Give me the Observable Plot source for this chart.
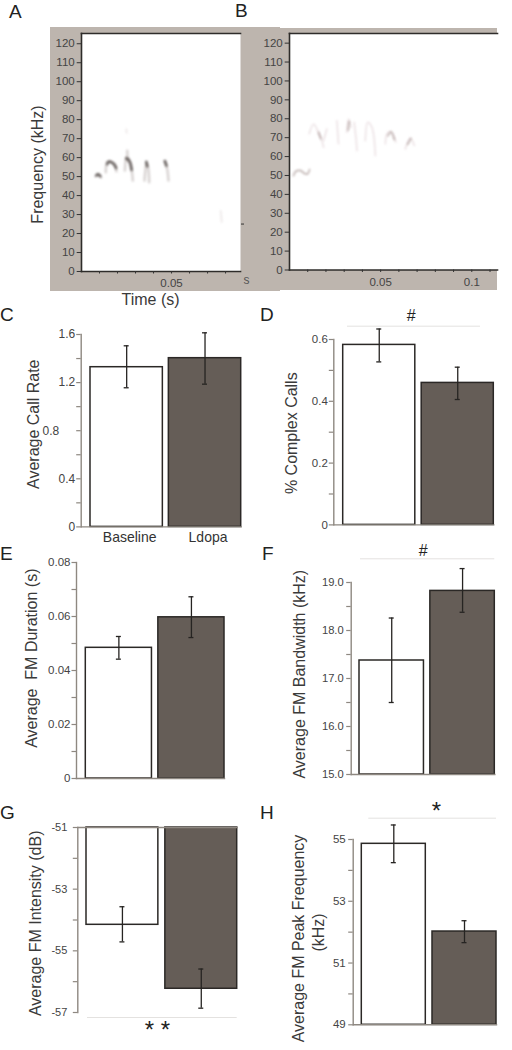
<!DOCTYPE html>
<html><head><meta charset="utf-8">
<script src="https://cdn.jsdelivr.net/npm/d3@7"></script>
<script src="https://cdn.jsdelivr.net/npm/@observablehq/plot@0.6"></script>
<style>
html,body{margin:0;padding:0;background:#fff;}
#page{position:relative;width:512px;height:1050px;overflow:hidden;font-family:"Liberation Sans",Arial,sans-serif;}
.grey{position:absolute;background:#bdb5ae;}
.letter{position:absolute;font-size:19px;line-height:19px;color:#222;}
svg text{white-space:pre;}
</style></head><body><div id="page"></div>
<script>
// ---------- data ----------
const categories = ["Baseline", "Ldopa"];

const callRate     = [1.328, 1.403],  callRateLo  = [1.157, 1.187],  callRateHi  = [1.506, 1.614];
const complexCalls = [0.5825, 0.4595], complexLo  = [0.5275, 0.4058], complexHi  = [0.634, 0.5104];
const fmDuration   = [0.0484, 0.0597], durationLo = [0.0442, 0.0522], durationHi = [0.0526, 0.0673];
const fmBandwidth  = [17.375, 18.825], bandLo     = [16.5, 18.38],   bandHi      = [18.26, 19.29];
const fmIntensity  = [-54.156, -56.23], intensLo  = [-54.71, -56.86], intensHi   = [-53.57, -55.59];
const fmPeak       = [54.86, 52.02],   peakLo     = [54.25, 51.66],  peakHi      = [55.47, 52.37];

const specTicks = [0,10,20,30,40,50,60,70,80,90,100,110,120];

// spectrogram traces: [time (s), frequency (kHz)]
const tracesA = [
  [[.0078,50.2],[.0091,51.4],[.0109,49.6]],
  [[.0135,52.3],[.0143,57.6],[.0161,57.9],[.0183,56.7],[.0194,52.8]],
  [[.0241,53.2],[.025,60.2],[.0263,58.5],[.0276,54.9],[.0285,47.9]],
  [[.0254,63.7],[.0256,58]],
  [[.035,47.9],[.0361,57.2],[.037,54.9],[.0376,47]],
  [[.0463,57.9],[.0476,54],[.0483,47.9]]
];
const coresA = [
  [[.0083,50.6],[.0091,51.2],[.0104,50.2]],
  [[.0143,56.5],[.015,57.8],[.0165,57.6],[.0183,56.2],[.0192,54.5]],
  [[.0249,59.5],[.0262,58.8],[.0272,56.8],[.0278,53.5]],
  [[.036,57.8],[.0365,55.5]],
  [[.0463,58.2],[.0472,55.8]]
];
const faintA = [
  [[.0249,75],[.0251,73]],
  [[.0773,32],[.0779,26]]
];
const tracesB = [
  [[.0108,72],[.0132,77.2],[.0159,72.8],[.0178,68.4],[.0187,64.9]],
  [[.0187,68.4],[.0205,74.6]],
  [[.026,79],[.0269,66.7]],
  [[.0315,72.8],[.0324,79.9],[.0337,75.5]],
  [[.0355,78.1],[.0366,68.4],[.037,63.1]],
  [[.0416,68.4],[.0429,78.1],[.0452,75.5],[.0471,60.5]],
  [[.0526,66.7],[.0535,72],[.0557,73.2],[.0584,67.5]],
  [[.0635,64],[.0663,69.7],[.0685,65.8]]
];
const coresB = [
  [[.0022,49.9],[.0035,52.2],[.0062,52.6],[.0081,51.1],[.0099,50.8],[.011,53.1]],
  [[.0159,72.8],[.0172,69.5]],
  [[.0322,74],[.0327,78.5]],
  [[.054,71],[.0557,73],[.0575,69]],
  [[.0648,66.5],[.0665,69.5]]
];

// ---------- style ----------
const FONT = '"Liberation Sans",Arial,sans-serif';
const axisCol = "#8e8881", inkCol = "#2b2826", textCol = "#3a3a3a", tickTextCol = "#444";
const whiteFill = "#ffffff", darkFill = "#655d57";
const page = document.getElementById("page");

function sty(left, top){
  return {background:"transparent",position:"absolute",left:left+"px",top:top+"px",
          overflow:"visible",fontFamily:FONT,maxWidth:"none"};
}
function addDiv(cls, css, txt){
  const d=document.createElement("div"); d.className=cls; Object.assign(d.style,css);
  if(txt) d.textContent=txt; page.appendChild(d);
}

// ---------- grey backgrounds and letters ----------
addDiv("grey",{left:"50px",top:"27px",width:"230px",height:"264px"});
addDiv("grey",{left:"280px",top:"28px",width:"217px",height:"262px"});
[["A",9,2],["B",235,1],["C",0,305],["D",260,305],["E",0,544],["F",262,544],["G",0,803],["H",260,803]]
 .forEach(([t,x,y])=>addDiv("letter",{left:x+"px",top:y+"px"},t));

// ---------- spectrograms ----------
function spectro(o){
  const W=o.svgW, H=320;
  const marks=[
    Plot.frame({fill:"#fff",stroke:null}),
    ...o.traces.map(tr=>Plot.line(tr,{x:"0",y:"1",stroke:o.traceCol,strokeOpacity:o.traceOp,strokeWidth:o.traceW,curve:"catmull-rom",imageFilter:"blur(0.9px)"})),
    ...o.cores.map(tr=>Plot.line(tr,{x:"0",y:"1",stroke:o.coreCol,strokeOpacity:o.coreOp,strokeWidth:o.coreW,curve:"catmull-rom",imageFilter:"blur(0.9px)"})),
    ...(o.faint||[]).map(tr=>Plot.line(tr,{x:"0",y:"1",stroke:"#c9b9b9",strokeOpacity:.35,strokeWidth:1.6,imageFilter:"blur(0.9px)"})),
    ...o.edges.map(a=>Plot.frame({anchor:a,stroke:"#2e2c2a",strokeWidth:1.6})),
    Plot.axisY({ticks:specTicks,anchor:"left",tickSize:4.3,tickPadding:2.5,label:null,fontSize:11.5,color:tickTextCol,stroke:"#333"}),
    Plot.axisX({ticks:o.minorX,anchor:"bottom",tickSize:2.5,text:null,label:null,stroke:"#333"}),
    Plot.axisX({ticks:o.majorX,anchor:"bottom",tickSize:2.5,tickPadding:5,label:null,fontSize:11.5,color:tickTextCol,stroke:"#333",tickFormat:o.fmt}),
    ...(o.extra||[])
  ];
  const p=Plot.plot({width:W,height:H,marginLeft:o.fl-o.sl,marginRight:o.sl+W-o.fr,marginTop:33,marginBottom:H-o.fb,
    x:{domain:o.xd,axis:null},y:{domain:o.yd,axis:null},style:sty(o.sl,0),marks});
  page.appendChild(p);
}
spectro({sl:0,svgW:280,fl:81,fr:240,fb:271,xd:[0,.0883],yd:[0,125.4],
  traces:tracesA,cores:coresA,faint:faintA,traceCol:"#9a8f8b",traceOp:.4,traceW:2.4,coreCol:"#3f3835",coreOp:.7,coreW:2.6,
  edges:["top","left","bottom"],minorX:[.01,.02,.03,.04,.06,.07,.08],majorX:[.05],fmt:d=>"0.05",
  extra:[
    Plot.ruleY([25],{stroke:"#333",insetLeft:160,insetRight:-4}),
    Plot.text(["s"],{frameAnchor:"bottom-right",dx:9,dy:12,fontSize:12,fill:"#555"}),
    Plot.text(["Frequency (kHz)"],{frameAnchor:"left",textAnchor:"middle",dx:-44,dy:12,rotate:-90,fontSize:16,fill:textCol}),
    Plot.text(["Time (s)"],{frameAnchor:"bottom",dx:-10.5,dy:33,fontSize:16,fill:textCol})
  ]});
spectro({sl:256,svgW:256,fl:289,fr:497,fb:269.5,xd:[0,.1141],yd:[0,125.1],
  traces:tracesB,cores:coresB,traceCol:"#d8c4c9",traceOp:.6,traceW:1.3,coreCol:"#a3908e",coreOp:.65,coreW:1.7,
  edges:["top","left","bottom"],minorX:[.01,.02,.03,.04,.06,.07,.08,.09,.11],majorX:[.05,.1],fmt:d=>d===.05?"0.05":"0.1"});

// ---------- bar panels ----------
function barPanel(o){
  const sl=o.sl, W=256, st=o.ft-50, H=(o.fb-o.ft)+100;
  const rows=categories.map((c,i)=>({c,v:o.v[i],lo:o.lo[i],hi:o.hi[i]}));
  const bw=((o.br-o.bl)-o.gap)/2, capIn=(bw-5)/2, midY=(o.ft+o.fb)/2, midX=(o.ax+o.br)/2;
  const base=o.base;
  const marks=[
    ...(o.sig?[Plot.ruleY([o.inverted?o.yd[0]:o.yd[1]],{dy:o.sig.y-(o.inverted?o.fb:o.ft),stroke:"#e4e2e0",strokeWidth:1,insetLeft:o.sig.x1-o.ax,insetRight:o.br-o.sig.x2}),
      Plot.text([o.sig.t],{frameAnchor:o.inverted?"bottom":"top",dx:o.sig.tx-midX,dy:o.sig.ty-(o.inverted?o.fb:o.ft),fontSize:o.sig.fs,fill:"#222"})]:[]),
    Plot.barY(rows,{x:"c",y1:()=>base,y2:"v",fill:"c",stroke:inkCol,strokeWidth:1.5}),
    Plot.ruleX(rows,{x:"c",y1:"lo",y2:"hi",stroke:"#262422",strokeWidth:1.3}),
    Plot.tickY(rows,{x:"c",y:"lo",stroke:"#262422",strokeWidth:1.3,insetLeft:capIn,insetRight:capIn}),
    Plot.tickY(rows,{x:"c",y:"hi",stroke:"#262422",strokeWidth:1.3,insetLeft:capIn,insetRight:capIn}),
    Plot.frame({anchor:"left",stroke:axisCol,strokeWidth:1.4}),
    Plot.frame({anchor:o.inverted?"top":"bottom",stroke:axisCol,strokeWidth:1.4}),
    Plot.axisY({ticks:o.minor,anchor:"left",tickSize:4.5,text:null,label:null,stroke:axisCol,strokeWidth:1.2}),
    Plot.axisY({ticks:o.major,anchor:"left",tickSize:4.5,tickPadding:o.pad,label:null,fontSize:o.fs,tickFormat:o.fmt,fill:tickTextCol,stroke:axisCol,strokeWidth:1.2}),
    ...o.labels.map(l=>Plot.text([l.t],{frameAnchor:"left",textAnchor:"middle",dx:l.x-o.ax,dy:l.y-midY,rotate:-90,fontSize:16,fill:textCol})),
    ...(o.extra?o.extra(midX):[])
  ];
  const p=Plot.plot({width:W,height:H,marginLeft:o.ax-sl,marginRight:sl+W-o.br,marginTop:o.ft-st,marginBottom:st+H-o.fb,
    x:{type:"band",domain:categories,range:[o.bl-sl,o.br-sl],paddingInner:o.gap/(bw+o.gap),paddingOuter:0,round:false,axis:null},
    y:{domain:o.yd,axis:null},
    color:{domain:categories,range:[whiteFill,darkFill]},
    style:sty(sl,st),marks});
  page.appendChild(p);
}
barPanel({sl:0,ax:80.7,ft:334.3,fb:526.7,bl:90,br:240.7,gap:6,yd:[0,1.6],base:0,v:callRate,lo:callRateLo,hi:callRateHi,
  major:[0,.4,1.2,1.6],minor:[.2,.6,.8,1,1.4],pad:1.5,fs:12,fmt:d=>d===0?"0":d3.format(".1f")(d),
  labels:[{t:"Average Call Rate",x:33,y:424}],
  extra:()=>[
    Plot.axisY({ticks:[.8],anchor:"left",tickSize:0,tickPadding:22,label:null,fontSize:12,tickFormat:d3.format(".1f"),fill:tickTextCol}),
    Plot.axisX({anchor:"bottom",tickSize:0,tickPadding:5,label:null,fontSize:14,fill:"#333",dx:3})
  ]});
barPanel({sl:256,ax:333.3,ft:339.3,fb:524.7,bl:342.7,br:493.3,gap:6.4,yd:[0,.6],base:0,v:complexCalls,lo:complexLo,hi:complexHi,
  major:[0,.2,.4,.6],minor:[.1,.3,.5],pad:1.5,fs:11.5,fmt:d=>d===0?"0":d3.format(".1f")(d),
  labels:[{t:"% Complex Calls",x:291.7,y:433}],
  sig:{y:326,x1:347,x2:480,t:"#",tx:410.7,ty:309,fs:16}});
barPanel({sl:0,ax:76,ft:562.3,fb:778.3,bl:85.3,br:224,gap:6.4,yd:[0,.08],base:0,v:fmDuration,lo:durationLo,hi:durationHi,
  major:[0,.02,.04,.06,.08],minor:[.01,.03,.05,.07],pad:1.5,fs:11.5,fmt:d=>d===0?"0":d3.format(".2f")(d),
  labels:[{t:"Average  FM Duration (s)",x:31.7,y:658}]});
barPanel({sl:256,ax:350.7,ft:582,fb:774,bl:359,br:494.3,gap:6.4,yd:[15,19],base:15,v:fmBandwidth,lo:bandLo,hi:bandHi,
  major:[15,16,17,18,19],minor:[15.5,16.5,17.5,18.5],pad:3,fs:11.2,fmt:d3.format(".1f"),
  labels:[{t:"Average FM Bandwidth (kHz)",x:299.3,y:673.7}],
  sig:{y:558.3,x1:360,x2:494.3,t:"#",tx:422.7,ty:544,fs:16}});
barPanel({sl:0,ax:77.3,ft:826.7,fb:1011.7,bl:86,br:236.7,gap:7,yd:[-57,-51],base:-51,inverted:true,v:fmIntensity,lo:intensLo,hi:intensHi,
  major:[-57,-55,-53,-51],minor:[-56,-54,-52],pad:6,fs:11,fmt:d=>String(d),
  labels:[{t:"Average FM Intensity (dB)",x:35,y:922.5}],
  sig:{y:1016.7,x1:87,x2:236.7,t:"* *",tx:157,ty:1037,fs:24}});
barPanel({sl:256,ax:352.7,ft:839,fb:1024.3,bl:361.3,br:496,gap:6.7,yd:[49,55],base:49,v:fmPeak,lo:peakLo,hi:peakHi,
  major:[49,51,53,55],minor:[50,52,54],pad:3,fs:11.5,fmt:d=>String(d),
  labels:[{t:"Average FM Peak Frequency",x:298.3,y:938},{t:"(kHz)",x:318.3,y:932}],
  sig:{y:817.7,x1:368.3,x2:496,t:"*",tx:436,ty:801,fs:24}});
</script></body></html>
